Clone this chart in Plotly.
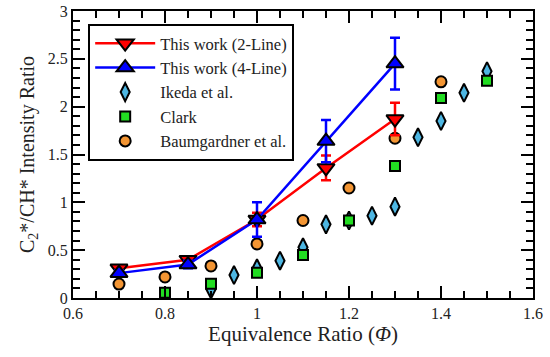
import plotly.graph_objects as go

# This work (2-Line)
x_2line = [0.7, 0.85, 1.0, 1.15, 1.3]
y_2line = [0.31, 0.40, 0.82, 1.36, 1.87]
err_2line = [0.03, 0.03, 0.07, 0.13, 0.17]

# This work (4-Line)
x_4line = [0.7, 0.85, 1.0, 1.15, 1.3]
y_4line = [0.26, 0.35, 0.82, 1.64, 2.45]
err_4line = [0.03, 0.04, 0.18, 0.22, 0.27]

# Ikeda et al.
x_ikeda = [0.9, 0.95, 1.0, 1.05, 1.1, 1.15, 1.2, 1.25, 1.3, 1.35, 1.4, 1.45, 1.5]
y_ikeda = [0.09, 0.24, 0.31, 0.39, 0.53, 0.77, 0.81, 0.86, 0.955, 1.68, 1.85, 2.145, 2.37]

# Clark
x_clark = [0.8, 0.9, 1.0, 1.1, 1.2, 1.3, 1.4, 1.5]
y_clark = [0.055, 0.15, 0.265, 0.45, 0.81, 1.38, 2.09, 2.27]

# Baumgardner et al.
x_baum = [0.7, 0.8, 0.9, 1.0, 1.1, 1.2, 1.3, 1.4]
y_baum = [0.146, 0.22, 0.335, 0.565, 0.81, 1.15, 1.67, 2.26]

FONT = "Liberation Serif, Times New Roman, serif"
fig = go.Figure()

fig.add_trace(go.Scatter(
    x=x_ikeda, y=y_ikeda, mode="markers", name="Ikeda et al.", legendrank=3,
    marker=dict(symbol="diamond-tall", size=13, color="#4DB6E2",
                line=dict(color="black", width=2))))
fig.add_trace(go.Scatter(
    x=x_clark, y=y_clark, mode="markers", name="Clark", legendrank=4,
    marker=dict(symbol="square", size=10, color="#22DD22",
                line=dict(color="black", width=2))))
fig.add_trace(go.Scatter(
    x=x_baum, y=y_baum, mode="markers", name="Baumgardner et al.", legendrank=5,
    marker=dict(symbol="circle", size=11, color="#F39533",
                line=dict(color="black", width=2))))
fig.add_trace(go.Scatter(
    x=x_2line, y=y_2line, mode="lines+markers", name="This work (2-Line)", legendrank=1,
    line=dict(color="#FF0000", width=2.5),
    marker=dict(symbol="triangle-down", size=15, color="#FF0000",
                line=dict(color="black", width=2)),
    error_y=dict(type="data", array=err_2line, color="#FF0000", thickness=2.5, width=5)))
fig.add_trace(go.Scatter(
    x=x_4line, y=y_4line, mode="lines+markers", name="This work (4-Line)", legendrank=2,
    line=dict(color="#0000FF", width=2.5),
    marker=dict(symbol="triangle-up", size=15, color="#0000FF",
                line=dict(color="black", width=2)),
    error_y=dict(type="data", array=err_4line, color="#0000FF", thickness=2.5, width=5)))

axis_common = dict(
    showline=True, linecolor="black", linewidth=2, mirror="ticks",
    ticks="inside", ticklen=12, tickwidth=1.5, tickcolor="black",
    showgrid=False, zeroline=False, automargin=False,
    tickfont=dict(family=FONT, size=16, color="#222"),
)
fig.update_xaxes(
    range=[0.6, 1.6], tickvals=[0.6, 0.8, 1.0, 1.2, 1.4, 1.6],
    ticktext=["0.6", "0.8", "1", "1.2", "1.4", "1.6"],
    minor=dict(dtick=0.05, tick0=0.6, ticks="inside", ticklen=7, tickwidth=1.5, tickcolor="black"),
    title=dict(text="Equivalence Ratio (<i>Φ</i>)", font=dict(family=FONT, size=21, color="#222"), standoff=5),
    **axis_common)
fig.update_yaxes(
    range=[0, 3], tickvals=[0, 0.5, 1, 1.5, 2, 2.5, 3],
    ticktext=["0", "0.5", "1", "1.5", "2", "2.5", "3"],
    minor=dict(dtick=0.1, tick0=0, ticks="inside", ticklen=7, tickwidth=1.5, tickcolor="black"),
    title=dict(text="C<sub>2</sub>*/CH* Intensity Ratio", font=dict(family=FONT, size=20, color="#222"), standoff=8),
    **axis_common)

fig.update_layout(
    width=550, height=357,
    margin=dict(l=73, r=17, t=11, b=59, autoexpand=False),
    plot_bgcolor="white", paper_bgcolor="white",
    font=dict(family=FONT, color="#222"),
    legend=dict(x=0.033, y=0.955, xanchor="left", yanchor="top",
                bgcolor="white", bordercolor="black", borderwidth=2,
                font=dict(family=FONT, size=16.5, color="#222"),
                itemwidth=60, tracegroupgap=0),
    showlegend=True,
)

fig.write_html("out.html", config={"displayModeBar": False},
               post_script="document.body.style.margin='0';document.body.style.padding='0';")
